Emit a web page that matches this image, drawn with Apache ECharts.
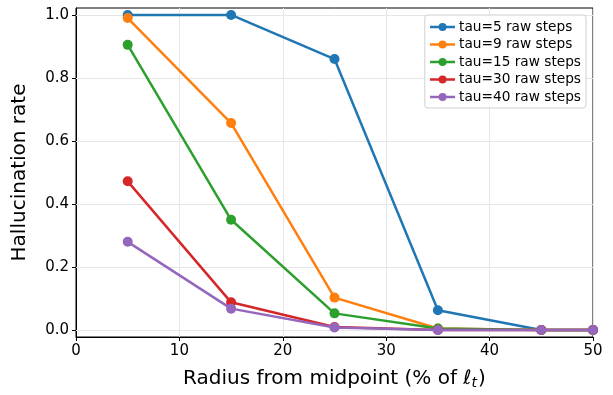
<!DOCTYPE html>
<html>
<head>
<meta charset="utf-8">
<script src="https://cdn.jsdelivr.net/npm/echarts@6/dist/echarts.min.js"></script>
<style>
  html, body { margin: 0; padding: 0; background: #fff; }
  #chart { width: 613px; height: 395px; }
</style>
</head>
<body>
<div id="chart"></div>
<script>
// Radius from midpoint (% of l_t)
const radii = [5, 15, 25, 35, 45, 50];

// Hallucination rate per tau setting
const tau5  = [1.0, 1.0, 0.86, 0.063, 0.0, 0.0];
const tau9  = [0.99, 0.657, 0.103, 0.005, 0.0, 0.0];
const tau15 = [0.905, 0.35, 0.053, 0.005, 0.0, 0.0];
const tau30 = [0.472, 0.088, 0.01, 0.0, 0.0, 0.0];
const tau40 = [0.28, 0.068, 0.008, 0.0, 0.0, 0.0];

// Tick positions on the rate axis
const yTicks = [0, 0.2, 0.4, 0.6, 0.8, 1.0];

const seriesNames = ['tau=5 raw steps', 'tau=9 raw steps', 'tau=15 raw steps', 'tau=30 raw steps', 'tau=40 raw steps'];
const seriesData = [tau5, tau9, tau15, tau30, tau40];
const colors = ['#1f77b4', '#ff7f0e', '#2ca02c', '#d62728', '#9467bd'];

const font = 'DejaVu Sans';

const chart = echarts.init(document.getElementById('chart'));
chart.setOption({
  animation: false,
  color: colors,
  grid: { left: 76, right: 20, top: 8, bottom: 58, show: true, borderColor: '#000', borderWidth: 1 },
  legend: {
    right: 27, top: 15,
    orient: 'vertical',
    backgroundColor: 'rgba(255,255,255,0.85)',
    borderColor: '#d0d0d0', borderWidth: 1, borderRadius: 3,
    padding: [5, 5, 4, 4],
    itemGap: 3.5,
    itemWidth: 25, itemHeight: 10,
    lineStyle: { width: 2.5 },
    textStyle: { fontFamily: font, fontSize: 13.7, lineHeight: 14, color: '#000', padding: [0, 0, 0, -1] },
    data: seriesNames
  },
  xAxis: {
    type: 'value', min: 0, max: 50, interval: 10,
    name: 'Radius from midpoint (% of {i|ℓ}{s|t})',
    nameLocation: 'middle', nameGap: 30,
    nameTextStyle: {
      fontFamily: font, fontSize: 20, color: '#000',
      rich: {
        i: { fontFamily: font, fontSize: 20, fontStyle: 'italic', color: '#000' },
        s: { fontFamily: font, fontSize: 14, fontStyle: 'italic', color: '#000', verticalAlign: 'bottom', padding: [9, 1, 0, 0] }
      }
    },
    axisLine: { show: true, onZero: false, lineStyle: { color: '#000', width: 1 } },
    axisTick: { show: true, inside: false, length: 4, lineStyle: { color: '#000' } },
    axisLabel: { fontFamily: font, fontSize: 15, color: '#000', margin: 7 },
    splitLine: { show: true, lineStyle: { color: '#e6e6e6', width: 1 } }
  },
  yAxis: {
    type: 'value', min: -0.022, max: 1.022,
    name: 'Hallucination rate',
    nameLocation: 'middle', nameGap: 46,
    nameTextStyle: { fontFamily: font, fontSize: 20, color: '#000' },
    axisLine: { show: true, onZero: false, lineStyle: { color: '#000', width: 1 } },
    axisLabel: {
      fontFamily: font, fontSize: 15, color: '#000', margin: 7,
      customValues: yTicks,
      formatter: v => v.toFixed(1)
    },
    axisTick: { show: true, length: 4, lineStyle: { color: '#000' }, customValues: yTicks },
    splitLine: { show: false }
  },
  series: seriesNames.map((name, i) => ({
    name: name,
    type: 'line',
    data: radii.map((r, j) => [r, seriesData[i][j]]),
    symbol: 'circle',
    symbolSize: 10,
    lineStyle: { width: 2.5, color: colors[i] },
    itemStyle: { color: colors[i] },
    z: 10 + i,
    // horizontal grid lines at the rate ticks
    markLine: i === 0 ? {
      silent: true, symbol: 'none', label: { show: false },
      lineStyle: { color: '#e6e6e6', width: 1, type: 'solid' },
      data: yTicks.map(v => ({ yAxis: v })),
      z: 1
    } : undefined
  }))
});
</script>
</body>
</html>
